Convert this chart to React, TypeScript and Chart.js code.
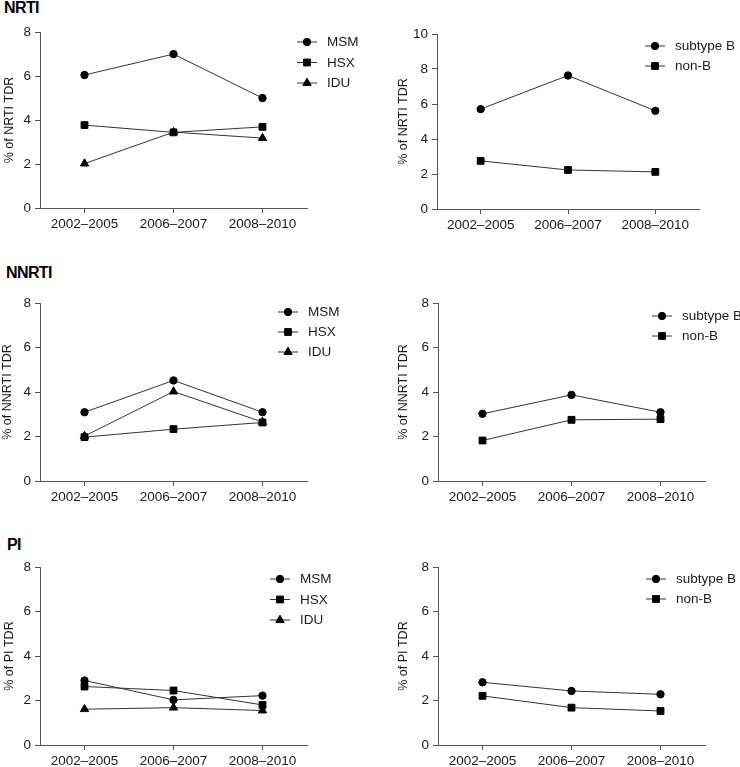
import React, { useEffect, useRef } from 'react';
import { Chart, registerables } from 'chart.js';

Chart.register(...registerables);

// ---------- data ----------
const periods = ['2002–2005', '2006–2007', '2008–2010'];

const nrtiMSM = [6.05, 7.0, 5.0];
const nrtiHSX = [3.77, 3.44, 3.69];
const nrtiIDU = [2.02, 3.45, 3.18];
const nrtiSubB = [5.71, 7.63, 5.61];
const nrtiNonB = [2.75, 2.23, 2.12];

const nnrtiMSM = [3.09, 4.52, 3.09];
const nnrtiHSX = [1.97, 2.33, 2.63];
const nnrtiIDU = [2.02, 4.02, 2.65];
const nnrtiSubB = [3.02, 3.87, 3.09];
const nnrtiNonB = [1.82, 2.75, 2.78];

const piMSM = [2.9, 2.03, 2.22];
const piHSX = [2.63, 2.45, 1.8];
const piIDU = [1.61, 1.68, 1.55];
const piSubB = [2.82, 2.43, 2.28];
const piNonB = [2.21, 1.68, 1.53];

const riskLabels = ['MSM', 'HSX', 'IDU'];
const subtypeLabels = ['subtype B', 'non-B'];

// ---------- styles ----------
const FONT = '"Liberation Sans", Arial, Helvetica, sans-serif';
const AXIS = '#555';
const TEXT = '#1a1a1a';
const LINE = '#333';
const MARK = '#000';

const styleFor: Record<string, { pointStyle: string; radius: number }> = {
  MSM: { pointStyle: 'circle', radius: 3.7 },
  'subtype B': { pointStyle: 'circle', radius: 3.7 },
  HSX: { pointStyle: 'rect', radius: 4.8 },
  'non-B': { pointStyle: 'rect', radius: 4.8 },
  IDU: { pointStyle: 'triangle', radius: 4.8 },
};

function drawMarker(ctx: CanvasRenderingContext2D, style: string, x: number, y: number, r: number) {
  ctx.beginPath();
  if (style === 'circle') {
    ctx.arc(x, y, r, 0, Math.PI * 2);
  } else if (style === 'rect') {
    const s = Math.SQRT1_2 * r;
    ctx.rect(x - s, y - s, 2 * s, 2 * s);
  } else {
    const a = (2 * Math.PI) / 3;
    ctx.moveTo(x, y - r);
    ctx.lineTo(x + Math.sin(a) * r, y - Math.cos(a) * r);
    ctx.lineTo(x - Math.sin(a) * r, y - Math.cos(a) * r);
    ctx.closePath();
  }
  ctx.fillStyle = MARK;
  ctx.fill();
  ctx.lineWidth = 1;
  ctx.strokeStyle = MARK;
  ctx.stroke();
}

const customLegend = {
  id: 'customLegend',
  afterDraw(chart: any, _args: any, opts: any) {
    if (!opts || opts.x == null) return;
    const ctx: CanvasRenderingContext2D = chart.ctx;
    chart.data.datasets.forEach((ds: any, i: number) => {
      const cx = opts.x - opts.ox;
      const cy = opts.y - opts.oy + i * opts.gap;
      const st = styleFor[ds.label];
      ctx.save();
      ctx.strokeStyle = LINE;
      ctx.lineWidth = 1;
      ctx.beginPath();
      ctx.moveTo(cx - 10, cy);
      ctx.lineTo(cx + 10, cy);
      ctx.stroke();
      drawMarker(ctx, st.pointStyle, cx, cy, st.radius);
      ctx.fillStyle = TEXT;
      ctx.font = `13.5px ${FONT}`;
      ctx.textBaseline = 'middle';
      ctx.textAlign = 'left';
      ctx.fillText(ds.label, cx + 20, cy + 0.5);
      ctx.restore();
    });
  },
};

type PanelDef = {
  labels: string[];
  series: number[][];
  yMax: number;
  yTitle: string;
  canvas: { x: number; y: number; w: number; h: number };
  area: { l: number; t: number; r: number; b: number };
  titleX: number;
  legend: { x: number; y: number; gap: number };
};

const panels: PanelDef[] = [
  {
    labels: riskLabels, series: [nrtiMSM, nrtiHSX, nrtiIDU], yMax: 8, yTitle: '% of NRTI TDR',
    canvas: { x: 0, y: 20, w: 370, h: 225 }, area: { l: 40, t: 30, r: 307, b: 208 }, titleX: 9.5,
    legend: { x: 307, y: 42, gap: 20.5 },
  },
  {
    labels: subtypeLabels, series: [nrtiSubB, nrtiNonB], yMax: 10, yTitle: '% of NRTI TDR',
    canvas: { x: 370, y: 20, w: 370, h: 225 }, area: { l: 437, t: 34, r: 699, b: 209 }, titleX: 404,
    legend: { x: 655, y: 46, gap: 20 },
  },
  {
    labels: riskLabels, series: [nnrtiMSM, nnrtiHSX, nnrtiIDU], yMax: 8, yTitle: '% of NNRTI TDR',
    canvas: { x: 0, y: 290, w: 370, h: 220 }, area: { l: 40, t: 303, r: 307, b: 481 }, titleX: 8,
    legend: { x: 288, y: 312, gap: 20 },
  },
  {
    labels: subtypeLabels, series: [nnrtiSubB, nnrtiNonB], yMax: 8, yTitle: '% of NNRTI TDR',
    canvas: { x: 370, y: 290, w: 370, h: 220 }, area: { l: 438, t: 303, r: 705, b: 481 }, titleX: 404,
    legend: { x: 662, y: 316, gap: 20 },
  },
  {
    labels: riskLabels, series: [piMSM, piHSX, piIDU], yMax: 8, yTitle: '% of PI TDR',
    canvas: { x: 0, y: 555, w: 370, h: 212 }, area: { l: 40, t: 567, r: 307, b: 745 }, titleX: 9.5,
    legend: { x: 280, y: 579, gap: 20.5 },
  },
  {
    labels: subtypeLabels, series: [piSubB, piNonB], yMax: 8, yTitle: '% of PI TDR',
    canvas: { x: 370, y: 555, w: 370, h: 212 }, area: { l: 438, t: 567, r: 705, b: 745 }, titleX: 404,
    legend: { x: 656, y: 579, gap: 20 },
  },
];

const headings = [
  { text: 'NRTI', x: 4, y: 0 },
  { text: 'NNRTI', x: 6, y: 265 },
  { text: 'PI', x: 7, y: 537 },
];

function Panel({ def }: { def: PanelDef }) {
  const ref = useRef<HTMLCanvasElement | null>(null);
  useEffect(() => {
    if (!ref.current) return;
    const { canvas, area } = def;
    const titleSize = 12.5;
    const titleHalf = (titleSize * 1.2) / 2;
    const padLeft = def.titleX - titleHalf - canvas.x;
    const padTop = area.t - canvas.y;
    const padRight = canvas.x + canvas.w - area.r;
    const yWidth = area.l - canvas.x - padLeft;
    const xHeight = canvas.y + canvas.h - area.b;
    const tickFont = { family: FONT, size: 13.5 };

    const chart = new Chart(ref.current, {
      type: 'line',
      data: {
        labels: periods,
        datasets: def.series.map((vals, i) => {
          const label = def.labels[i];
          const st = styleFor[label];
          return {
            label,
            data: vals,
            borderColor: LINE,
            borderWidth: 1,
            tension: 0,
            fill: false,
            pointStyle: st.pointStyle as any,
            pointRadius: st.radius,
            pointHoverRadius: st.radius,
            pointBackgroundColor: MARK,
            pointBorderColor: MARK,
            pointBorderWidth: 1,
          };
        }),
      },
      options: {
        responsive: false,
        animation: false,
        devicePixelRatio: 1,
        events: [],
        layout: {
          autoPadding: false,
          padding: { left: padLeft, top: padTop, right: padRight, bottom: 0 },
        },
        plugins: {
          legend: { display: false },
          tooltip: { enabled: false },
          customLegend: { ...def.legend, ox: canvas.x, oy: canvas.y },
        } as any,
        scales: {
          x: {
            type: 'category',
            offset: true,
            grid: { drawOnChartArea: false, drawTicks: true, tickLength: 5, color: AXIS, offset: false },
            border: { display: true, color: AXIS, width: 1 },
            ticks: { font: tickFont, color: TEXT, padding: 3, maxRotation: 0, autoSkip: false },
            afterFit: (s: any) => { s.height = xHeight; },
          },
          y: {
            min: 0,
            max: def.yMax,
            grid: { drawOnChartArea: false, drawTicks: true, tickLength: 5, color: AXIS },
            border: { display: true, color: AXIS, width: 1 },
            ticks: { stepSize: 2, font: tickFont, color: TEXT, padding: 4 },
            title: {
              display: true,
              text: def.yTitle,
              color: TEXT,
              font: { family: FONT, size: titleSize },
              padding: { top: 0, bottom: 0 },
            },
            afterFit: (s: any) => { s.width = yWidth; },
          },
        },
      } as any,
      plugins: [customLegend],
    });
    return () => chart.destroy();
  }, [def]);

  return (
    <canvas
      ref={ref}
      width={def.canvas.w}
      height={def.canvas.h}
      style={{
        position: 'absolute',
        left: def.canvas.x,
        top: def.canvas.y,
        width: def.canvas.w,
        height: def.canvas.h,
      }}
    />
  );
}

export default function App() {
  return (
    <div
      style={{
        position: 'fixed',
        left: 0,
        top: 0,
        width: 740,
        height: 767,
        background: '#fff',
        overflow: 'hidden',
        fontFamily: FONT,
      }}
    >
      {headings.map((h) => (
        <div
          key={h.text}
          style={{
            position: 'absolute',
            left: h.x,
            top: h.y,
            fontSize: 16,
            lineHeight: '16px',
            fontWeight: 'bold',
            color: '#000',
            letterSpacing: '-0.6px',
          }}
        >
          {h.text}
        </div>
      ))}
      {panels.map((p, i) => (
        <Panel key={i} def={p} />
      ))}
    </div>
  );
}
